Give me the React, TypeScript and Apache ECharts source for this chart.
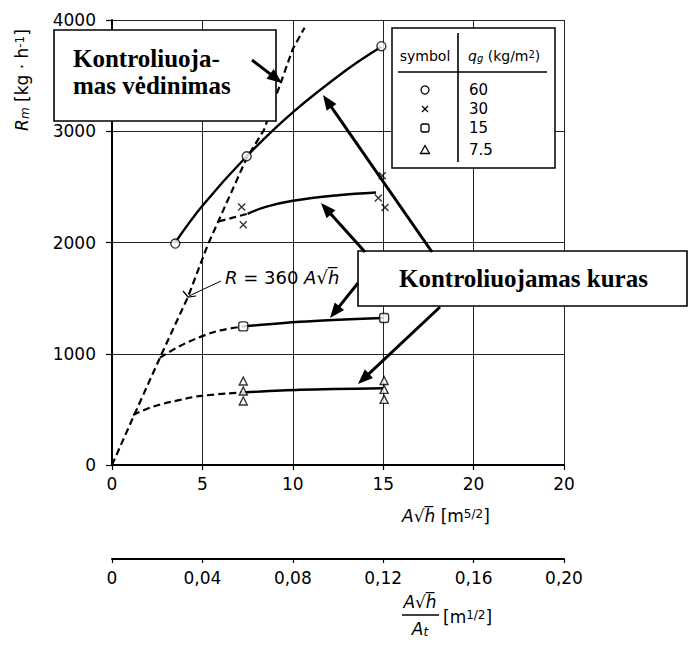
import React, { useEffect, useRef } from "react";
import * as echarts from "echarts";

// ---- axis ticks / labels ----
const xTicks = [0, 5, 10, 15, 20, 25];
const xTickLabels = ["0", "5", "10", "15", "20", "20"];
const x2TickLabels = ["0", "0,04", "0,08", "0,12", "0,16", "0,20"];
const yMax = 4000;

// ---- legend ----
const legendValues = ["60", "30", "15", "7.5"];

// ---- data: [A√h, R_m] ----
const ventilationLine = [
  [0, 0], [1.2, 440], [2.75, 1000], [4.2, 1510], [5.3, 1980],
  [7.45, 2760], [8.4, 3010], [10, 3740], [10.65, 3930],
];
const q60Curve = [[3.5, 2000], [5, 2330], [7.45, 2775], [10, 3170], [13, 3555], [14.9, 3760]];
const q60Points = [[3.5, 1990], [7.45, 2775], [14.9, 3765]];

const q30Curve = [[7.5, 2258], [8.5, 2320], [10, 2375], [12.5, 2425], [14.6, 2450]];
const q30Dashed = [[5.9, 2190], [7.5, 2258]];
const q30Points = [[7.17, 2320], [7.26, 2160], [14.95, 2600], [14.73, 2400], [15.1, 2315]];

const q15Curve = [[7.3, 1246], [10.4, 1288], [15.0, 1322]];
const q15Dashed = [[2.65, 965], [3.76, 1070], [4.96, 1156], [6, 1210], [7.3, 1246]];
const q15Points = [[7.26, 1246], [15.05, 1322]];

const q75Curve = [[7.3, 652], [10.4, 676], [15, 690]];
const q75Dashed = [[1.17, 450], [2.28, 525], [3.76, 585], [4.96, 622], [7.3, 652]];
const q75Points = [
  [7.26, 755], [7.26, 665], [7.26, 575],
  [15.05, 760], [15.05, 680], [15.05, 590],
];

const FONT = "DejaVu Sans";
const SERIF = "Liberation Serif";

function arrow(x1: number, y1: number, x2: number, y2: number, lw = 3, hl = 15, hw = 12) {
  const dx = x2 - x1, dy = y2 - y1;
  const L = Math.hypot(dx, dy);
  const ux = dx / L, uy = dy / L;
  const bx = x2 - ux * hl, by = y2 - uy * hl;
  const px = -uy, py = ux;
  return [
    { type: "line", z: 110, shape: { x1, y1, x2: bx + ux * 2, y2: by + uy * 2 }, style: { stroke: "#000", lineWidth: lw } },
    {
      type: "polygon", z: 111,
      shape: { points: [[x2, y2], [bx + (px * hw) / 2, by + (py * hw) / 2], [bx - (px * hw) / 2, by - (py * hw) / 2]] },
      style: { fill: "#000" },
    },
  ];
}

const rich = (size: number) => ({
  n: { fontFamily: FONT, fontSize: size, fill: "#000" },
  i: { fontFamily: FONT, fontSize: size, fontStyle: "italic", fill: "#000" },
  sup: { fontFamily: FONT, fontSize: Math.round(size * 0.72), verticalAlign: "top", lineHeight: 12, fill: "#000" },
  sub: { fontFamily: FONT, fontSize: Math.round(size * 0.72), fontStyle: "italic", verticalAlign: "bottom", lineHeight: 12, fill: "#000" },
});

export default function App() {
  const ref = useRef<HTMLDivElement>(null);
  useEffect(() => {
    if (!ref.current) return;
    const chart = echarts.init(ref.current, undefined, { renderer: "svg" });
    const lineS = (data: number[][], dashed: boolean, smooth: number | boolean = 0.4) => ({
      type: "line",
      data,
      smooth,
      showSymbol: false,
      symbol: "none",
      silent: true,
      lineStyle: { color: "#000", width: dashed ? 2.2 : 2.4, type: dashed ? [7, 4] : "solid" },
      z: 3,
    });
    const scatterS = (data: number[][], symbol: string, size: number, fill = "#fff") => ({
      type: "scatter",
      data,
      symbol,
      symbolSize: size,
      silent: true,
      itemStyle: { color: fill, borderColor: "#000", borderWidth: 1.4 },
      z: 5,
    });

    const legendX = 392, legendY = 28;
    const rowsY = [90, 109, 128, 150];
    const legendGraphics: any[] = [
      { type: "rect", z: 100, shape: { x: legendX, y: legendY, width: 163, height: 140 }, style: { fill: "#fff", stroke: "#000", lineWidth: 1.5 } },
      { type: "line", z: 101, shape: { x1: 398, y1: 72, x2: 547, y2: 72 }, style: { stroke: "#000", lineWidth: 1.6 } },
      { type: "line", z: 101, shape: { x1: 458, y1: 33, x2: 458, y2: 162 }, style: { stroke: "#000", lineWidth: 1.6 } },
      { type: "text", z: 101, style: { x: 425, y: 56, text: "symbol", align: "center", verticalAlign: "middle", fontFamily: FONT, fontSize: 14, fill: "#000" } },
      {
        type: "text", z: 101,
        style: { x: 468, y: 56, text: "{i|q}{sub|g} {n|(kg/m}{sup|2}{n|)}", align: "left", verticalAlign: "middle", fontFamily: FONT, fontSize: 14, fill: "#000", rich: rich(14) },
      },
      { type: "circle", z: 101, shape: { cx: 425, cy: rowsY[0], r: 4 }, style: { fill: "#fff", stroke: "#000", lineWidth: 1.3 } },
      { type: "line", z: 101, shape: { x1: 422, y1: rowsY[1] - 3, x2: 428, y2: rowsY[1] + 3 }, style: { stroke: "#000", lineWidth: 1.3 } },
      { type: "line", z: 101, shape: { x1: 428, y1: rowsY[1] - 3, x2: 422, y2: rowsY[1] + 3 }, style: { stroke: "#000", lineWidth: 1.3 } },
      { type: "rect", z: 101, shape: { x: 421, y: rowsY[2] - 4, width: 8, height: 8, r: 2 }, style: { fill: "#fff", stroke: "#000", lineWidth: 1.3 } },
      { type: "polygon", z: 101, shape: { points: [[425, rowsY[3] - 4.5], [429.5, rowsY[3] + 3.5], [420.5, rowsY[3] + 3.5]] }, style: { fill: "#fff", stroke: "#000", lineWidth: 1.3 } },
      ...legendValues.map((v, k) => ({
        type: "text", z: 101,
        style: { x: 469, y: rowsY[k], text: v, align: "left", verticalAlign: "middle", fontFamily: FONT, fontSize: 15, fill: "#000" },
      })),
    ];

    const option: any = {
      animation: false,
      backgroundColor: "#fff",
      grid: { left: 112, top: 20, right: 689 - 564, bottom: 646 - 465, containLabel: false, outerBoundsMode: "none" },
      xAxis: [
        {
          type: "value", min: 0, max: 25, interval: 5,
          axisLine: { show: true, onZero: false, lineStyle: { color: "#000", width: 2 } },
          axisTick: { show: true, length: 5, lineStyle: { color: "#000", width: 1.2 } },
          axisLabel: {
            margin: 10, color: "#000", fontFamily: FONT, fontSize: 17,
            formatter: (v: number) => { const k = xTicks.indexOf(v); return k >= 0 ? xTickLabels[k] : String(v); },
          },
          splitLine: { show: true, lineStyle: { color: "#222", width: 1 } },
        },
        {
          type: "value", min: 0, max: 0.2, interval: 0.04, position: "bottom", offset: 94,
          axisLine: { show: true, onZero: false, lineStyle: { color: "#000", width: 2 } },
          axisTick: { show: true, length: 4, lineStyle: { color: "#000", width: 1.2 } },
          axisLabel: {
            margin: 10, color: "#000", fontFamily: FONT, fontSize: 17,
            formatter: (v: number) => { const k = Math.round(v / 0.04); return x2TickLabels[k] ?? String(v); },
          },
          splitLine: { show: false },
        },
      ],
      yAxis: {
        type: "value", min: 0, max: yMax, interval: 1000,
        axisLine: { show: true, onZero: false, lineStyle: { color: "#000", width: 2 } },
        axisTick: { show: true, length: 6, lineStyle: { color: "#000", width: 1.2 } },
        axisLabel: { margin: 16, color: "#000", fontFamily: FONT, fontSize: 17, formatter: (v: number) => String(v) },
        splitLine: { show: true, lineStyle: { color: "#222", width: 1 } },
      },
      series: [
        lineS(ventilationLine, true, false),
        lineS(q60Curve, false, 0.4),
        lineS(q30Curve, false, 0.4),
        lineS(q30Dashed, true, false),
        lineS(q15Curve, false, 0.3),
        lineS(q15Dashed, true, 0.4),
        lineS(q75Curve, false, 0.3),
        lineS(q75Dashed, true, 0.4),
        scatterS(q60Points, "circle", 9),
        scatterS(q30Points, "path://M0,0L10,10M10,0L0,10", 7, "none"),
        scatterS(q15Points, "roundRect", 9),
        scatterS(q75Points, "triangle", 8),
      ],
      graphic: [
        // y axis title
        {
          type: "text", z: 101, x: 22, y: 80, rotation: Math.PI / 2,
          style: { x: 0, y: 0, text: "{i|R}{sub|m} {n|[kg · h}{sup|-1}{n|]}", align: "center", verticalAlign: "middle", fontFamily: FONT, fontSize: 17, fill: "#000", rich: rich(17) },
        },
        // x axis title
        {
          type: "text", z: 101,
          style: { x: 402, y: 516, text: "{i|A}{n|√}{i|h\u0305} {n|[m}{sup|5/2}{n|]}", align: "left", verticalAlign: "middle", fontFamily: FONT, fontSize: 17, fill: "#000", rich: rich(17) },
        },
        // secondary title (fraction)
        {
          type: "text", z: 101,
          style: { x: 420, y: 602, text: "{i|A}{n|√}{i|h\u0305}", align: "center", verticalAlign: "middle", fontFamily: FONT, fontSize: 17, fill: "#000", rich: rich(17) },
        },
        { type: "line", z: 101, shape: { x1: 402, y1: 615, x2: 439, y2: 615 }, style: { stroke: "#000", lineWidth: 1.5 } },
        {
          type: "text", z: 101,
          style: { x: 420, y: 629, text: "{i|A}{sub|t}", align: "center", verticalAlign: "middle", fontFamily: FONT, fontSize: 17, fill: "#000", rich: rich(17) },
        },
        {
          type: "text", z: 101,
          style: { x: 443, y: 617, text: "{n|[m}{sup|1/2}{n|]}", align: "left", verticalAlign: "middle", fontFamily: FONT, fontSize: 17, fill: "#000", rich: rich(17) },
        },
        // R = 360 A√h label
        {
          type: "text", z: 101,
          style: { x: 225, y: 277, text: "{i|R} {n|= 360} {i|A}{n|√}{i|h\u0305}", align: "left", verticalAlign: "middle", fontFamily: FONT, fontSize: 18, fill: "#000", rich: rich(18) },
        },
        { type: "line", z: 101, shape: { x1: 221, y1: 281, x2: 189, y2: 296 }, style: { stroke: "#000", lineWidth: 1 } },
        { type: "polyline", z: 101, shape: { points: [[183, 291], [188, 297], [196, 296]] }, style: { stroke: "#000", lineWidth: 1.2, fill: "none" } },
        // legend table
        ...legendGraphics,
        // annotation boxes
        { type: "rect", z: 105, shape: { x: 54, y: 30, width: 222, height: 91 }, style: { fill: "#fff", stroke: "#000", lineWidth: 1.6 } },
        { type: "text", z: 106, style: { x: 73, y: 58, text: "Kontroliuoja-", align: "left", verticalAlign: "middle", fontFamily: SERIF, fontWeight: "bold", fontSize: 25, fill: "#000" } },
        { type: "text", z: 106, style: { x: 73, y: 85, text: "mas vėdinimas", align: "left", verticalAlign: "middle", fontFamily: SERIF, fontWeight: "bold", fontSize: 25, fill: "#000" } },
        { type: "rect", z: 105, shape: { x: 358, y: 251, width: 329, height: 55 }, style: { fill: "#fff", stroke: "#000", lineWidth: 1.6 } },
        { type: "text", z: 106, style: { x: 399, y: 278, text: "Kontroliuojamas kuras", align: "left", verticalAlign: "middle", fontFamily: SERIF, fontWeight: "bold", fontSize: 25, fill: "#000" } },
        // arrows
        ...arrow(252, 60, 282, 83),
        ...arrow(432, 252, 323, 95),
        ...arrow(365, 252, 321, 203),
        ...arrow(358, 283, 330, 318),
        ...arrow(440, 307, 358, 384),
      ],
    };
    chart.setOption(option);
    return () => chart.dispose();
  }, []);
  return (
    <div
      ref={ref}
      style={{ position: "fixed", left: 0, top: 0, width: 689, height: 646, background: "#fff" }}
    />
  );
}
